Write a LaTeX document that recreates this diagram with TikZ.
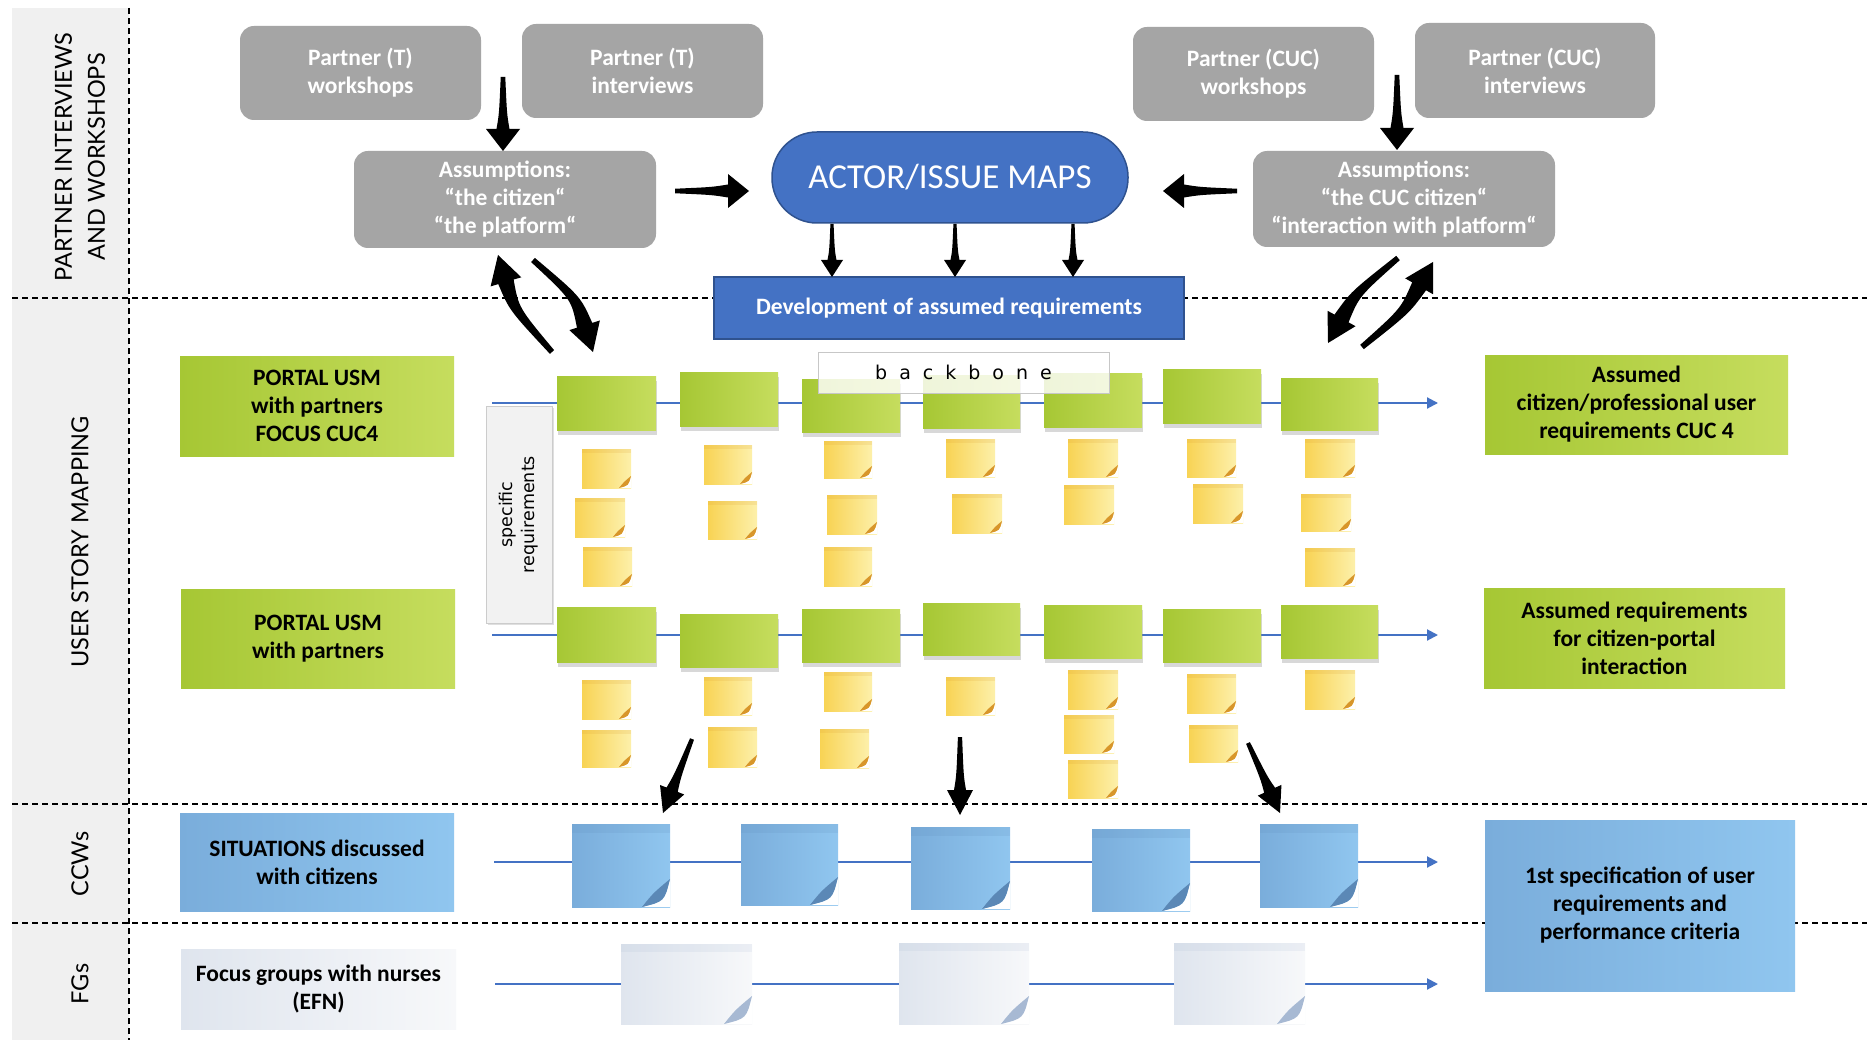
\documentclass[tikz,border=0pt]{standalone}
\usepackage{fontspec}
\setmainfont{Carlito}
\newfontfamily\secfont{Lato}
\newfontfamily\dvfont{DejaVu Sans}
\usetikzlibrary{calc,shadows,arrows.meta}

\definecolor{boxgray}{HTML}{A5A5A5}
\definecolor{mapblue}{HTML}{4472C4}
\definecolor{mapborder}{HTML}{2F528F}
\definecolor{grnL}{HTML}{A6C734}
\definecolor{grnR}{HTML}{C6DD5E}
\definecolor{bluL}{HTML}{7AADDB}
\definecolor{bluR}{HTML}{90C6EF}
\definecolor{bluCurl}{HTML}{5B88B6}
\definecolor{ylwL}{HTML}{F8D354}
\definecolor{ylwR}{HTML}{FDF0AA}
\definecolor{ylwCurl}{HTML}{D8962A}
\definecolor{litL}{HTML}{DFE5EE}
\definecolor{litR}{HTML}{F7F8FA}
\definecolor{litCurl}{HTML}{A7B9D3}
\definecolor{secgray}{HTML}{F0F0F0}
\definecolor{lineblue}{HTML}{4472C4}

\newcommand\boxat[7]{\node[#1, minimum width={(#5-#3)*1pt}, minimum height={(#6-#4)*1pt}] (#2) at ({(#3+#5)/2},{(#4+#6)/2}) {#7};}

\newcommand\taperarrow[6]{%
  \path ($(#3)!#6!(#2)$) coordinate (tH);
  \fill[black] ($(#1)!0.35*#4!90:(#2)$) .. controls ($(#2)!0.6*#4!90:(#3)$) .. ($(tH)!#4!90:(#3)$) -- ($(tH)!#5!90:(#3)$) -- (#3) -- ($(tH)!#5!-90:(#3)$) -- ($(tH)!#4!-90:(#3)$) .. controls ($(#2)!0.6*#4!-90:(#3)$) .. ($(#1)!0.35*#4!-90:(#2)$) -- cycle;
}
\newcommand\straightarrow[5]{%
  \path ($(#1)!0.5!(#2)$) coordinate (tM);
  \taperarrow{#1}{tM}{#2}{#3}{#4}{#5}
}

\tikzset{
  base/.style={inner sep=0pt, outer sep=0pt, align=center},
  boldtext/.style={font=\bfseries\fontsize{23.5}{28}\selectfont},
  graybox/.style={base, boldtext, rounded corners=14pt, fill=boxgray, text=white},
  greenbox/.style={base, boldtext, left color=grnL, right color=grnR, text=black},
  bluebox/.style={base, boldtext, left color=bluL, right color=bluR, text=black},
  litebox/.style={base, boldtext, left color=litL, right color=litR, text=black},
  devbox/.style={base, boldtext, fill=mapblue, draw=mapborder, line width=1.2pt, text=white},
  mapbox/.style={base, rounded corners=45pt, fill=mapblue, draw=mapborder, line width=1.5pt, text=white, font=\fontsize{35}{40}\selectfont},
  seclabel/.style={base, rotate=90, font=\secfont\fontsize{23.5}{33}\selectfont},
  sepline/.style={black, line width=1.3pt, dash pattern=on 6pt off 4pt},
  flowline/.style={lineblue, line width=2pt, -{Triangle[length=11pt,width=11pt]}},
  curl/.style n args={3}{path picture={
    \coordinate (cc) at (path picture bounding box.south east);
    \coordinate (nw) at (path picture bounding box.north west);
    \coordinate (ne) at (path picture bounding box.north east);
    \fill[#2, opacity=0.15] (nw) rectangle ([yshift=-#3]ne);
    \fill[white] ([xshift=-#1]cc) -- (cc) -- ([yshift=#1]cc) .. controls ([xshift=-0.2*#1,yshift=0.2*#1]cc) .. ([xshift=-#1]cc) -- cycle;
    \fill[#2] ([xshift=-#1]cc) .. controls ([xshift=-0.2*#1,yshift=0.2*#1]cc) .. ([yshift=#1]cc) .. controls ([xshift=-0.6*#1,yshift=0.5*#1]cc) .. ([xshift=-#1]cc) -- cycle;
  }},
  ynote/.style={base, left color=ylwL, right color=ylwR, curl={12pt}{ylwCurl}{4pt}},
  bnote/.style={base, left color=bluL, right color=bluR, curl={28pt}{bluCurl}{9pt}},
  wnote/.style={base, left color=litL, right color=litR, curl={28pt}{litCurl}{8pt}},
  gnote/.style={base, left color=grnL, right color=grnR, drop shadow={shadow xshift=1pt, shadow yshift=-5pt, opacity=0.3}},
}

\begin{document}
\begin{tikzpicture}[x=1pt,y=-1pt]
\useasboundingbox (0,0) rectangle (1867,1040);
\fill[white] (0,0) rectangle (1867,1040);
% section column and separators
\fill[secgray] (12,8) rectangle (129,1040);
\draw[sepline] (129,8) -- (129,1040);
\draw[sepline] (12,298) -- (1867,298);
\draw[sepline] (12,804) -- (1867,804);
\draw[sepline] (12,923) -- (1867,923);

\node[seclabel] (sec1) at (80,157) {PARTNER INTERVIEWS\\AND WORKSHOPS};
\node[seclabel] (sec2) at (80,542) {USER STORY MAPPING};
\node[seclabel] (sec3) at (80,864) {CCWs};
\node[seclabel] (sec4) at (80,984) {FGs};

% top boxes
\boxat{graybox}{pTw}{240}{26}{481}{120}{Partner (T)\\workshops}
\boxat{graybox}{pTi}{522}{24}{763}{118}{Partner (T)\\interviews}
\boxat{graybox}{aL}{354}{151}{656}{248}{Assumptions:\\“the citizen“\\“the platform“}
\boxat{graybox}{pCw}{1133}{27}{1374}{121}{Partner (CUC)\\workshops}
\boxat{graybox}{pCi}{1415}{23}{1655}{118}{Partner (CUC)\\interviews}
\boxat{graybox}{aR}{1253}{151}{1555}{247}{Assumptions:\\“the CUC citizen“\\“interaction with platform“}
\boxat{mapbox}{map}{772}{132}{1128}{223}{ACTOR/ISSUE MAPS}
\boxat{devbox}{dev}{714}{277}{1184}{339}{Development of assumed requirements}

% flow lines
\coordinate (r1s) at (492,403); \coordinate (r1e) at (1438,403);
\coordinate (r2s) at (492,635); \coordinate (r2e) at (1438,635);
\coordinate (r3s) at (494,862); \coordinate (r3e) at (1438,862);
\coordinate (r4s) at (495,984); \coordinate (r4e) at (1438,984);
\draw[flowline] (r1s) -- (r1e);
\draw[flowline] (r2s) -- (r2e);
\draw[flowline] (r3s) -- (r3e);
\draw[flowline] (r4s) -- (r4e);

% green notes row 1
\boxat{gnote}{g11}{557}{376}{656}{430}{}
\boxat{gnote}{g12}{680}{372}{778}{426}{}
\boxat{gnote}{g13}{802}{379}{900}{432}{}
\boxat{gnote}{g14}{923}{375}{1020}{428}{}
\boxat{gnote}{g15}{1044}{373}{1142}{427}{}
\boxat{gnote}{g16}{1163}{369}{1261}{423}{}
\boxat{gnote}{g17}{1281}{378}{1378}{430}{}
% green notes row 2
\boxat{gnote}{g21}{557}{607}{656}{662}{}
\boxat{gnote}{g22}{680}{614}{778}{667}{}
\boxat{gnote}{g23}{802}{609}{900}{662}{}
\boxat{gnote}{g24}{923}{603}{1020}{655}{}
\boxat{gnote}{g25}{1044}{605}{1142}{658}{}
\boxat{gnote}{g26}{1163}{609}{1261}{662}{}
\boxat{gnote}{g27}{1281}{605}{1378}{658}{}

% yellow notes row 1
\boxat{ynote}{y1a}{582}{449}{631}{488}{}
\boxat{ynote}{y1b}{575}{498}{625}{537}{}
\boxat{ynote}{y1c}{583}{547}{632}{586}{}
\boxat{ynote}{y2a}{704}{445}{752}{484}{}
\boxat{ynote}{y2b}{708}{501}{757}{539}{}
\boxat{ynote}{y3a}{824}{441}{872}{478}{}
\boxat{ynote}{y3b}{827}{495}{877}{534}{}
\boxat{ynote}{y3c}{824}{547}{872}{586}{}
\boxat{ynote}{y4a}{946}{439}{995}{477}{}
\boxat{ynote}{y4b}{952}{494}{1002}{533}{}
\boxat{ynote}{y5a}{1068}{439}{1118}{477}{}
\boxat{ynote}{y5b}{1064}{485}{1114}{524}{}
\boxat{ynote}{y6a}{1187}{439}{1236}{477}{}
\boxat{ynote}{y6b}{1193}{484}{1243}{523}{}
\boxat{ynote}{y7a}{1305}{439}{1355}{477}{}
\boxat{ynote}{y7b}{1301}{494}{1351}{531}{}
\boxat{ynote}{y7c}{1305}{548}{1355}{586}{}
% yellow notes row 2
\boxat{ynote}{z1a}{582}{680}{631}{719}{}
\boxat{ynote}{z1b}{582}{730}{631}{767}{}
\boxat{ynote}{z2a}{704}{677}{752}{715}{}
\boxat{ynote}{z2b}{708}{727}{757}{767}{}
\boxat{ynote}{z3a}{824}{672}{872}{711}{}
\boxat{ynote}{z3b}{820}{729}{869}{768}{}
\boxat{ynote}{z4a}{946}{677}{995}{715}{}
\boxat{ynote}{z5a}{1068}{670}{1118}{709}{}
\boxat{ynote}{z5b}{1064}{715}{1114}{753}{}
\boxat{ynote}{z5c}{1068}{760}{1118}{798}{}
\boxat{ynote}{z6a}{1187}{674}{1236}{713}{}
\boxat{ynote}{z6b}{1189}{725}{1238}{762}{}
\boxat{ynote}{z7a}{1305}{670}{1355}{709}{}

% blue notes
\boxat{bnote}{b1}{572}{824}{670}{907}{}
\boxat{bnote}{b2}{741}{824}{838}{905}{}
\boxat{bnote}{b3}{911}{827}{1010}{909}{}
\boxat{bnote}{b4}{1092}{829}{1190}{911}{}
\boxat{bnote}{b5}{1260}{824}{1358}{907}{}
% white notes
\boxat{wnote}{w1}{621}{944}{752}{1024}{}
\boxat{wnote}{w2}{899}{943}{1029}{1024}{}
\boxat{wnote}{w3}{1174}{943}{1305}{1024}{}

% backbone and specific requirements
\boxat{base, fill=white, fill opacity=0.82, text opacity=1, draw=black!22, line width=1pt, font=\dvfont\fontsize{19}{22}\selectfont}{bb}{818}{352}{1109}{393}{\spaceskip=12pt b a c k b o n e}
\boxat{base, fill=black!5, draw=black!20, line width=1pt, drop shadow={shadow xshift=2pt, shadow yshift=-2pt, opacity=0.25}}{spec}{486}{406}{552}{623}{}
\node[base, rotate=90, font=\dvfont\fontsize{17.5}{22}\selectfont] (spect) at (spec.center) {specific\\requirements};

% left labels
\boxat{greenbox}{L1}{180}{356}{454}{456}{PORTAL USM\\with partners\\FOCUS CUC4}
\boxat{greenbox}{L2}{181}{589}{455}{688}{PORTAL USM\\with partners}
\boxat{bluebox}{L3}{180}{813}{454}{911}{SITUATIONS discussed\\with citizens}
\boxat{litebox}{L4}{181}{949}{456}{1029}{Focus groups with nurses\\(EFN)}
% right labels
\boxat{greenbox}{R1}{1485}{355}{1788}{454}{Assumed\\citizen/professional user\\requirements CUC 4}
\boxat{greenbox}{R2}{1484}{588}{1785}{688}{Assumed requirements\\for citizen-portal\\interaction}
\boxat{bluebox}{R3}{1485}{820}{1795}{991}{1st specification of user\\requirements and\\performance criteria}

% block arrows
\coordinate (tLt) at (503,77); \coordinate (tLh) at (503,151);
\coordinate (tRt) at (1397,75); \coordinate (tRh) at (1397,150);
\straightarrow{tLt}{tLh}{6.5pt}{17pt}{22pt}
\straightarrow{tRt}{tRh}{6.5pt}{17pt}{22pt}
\coordinate (hLt) at (675,191); \coordinate (hLh) at (749,191);
\coordinate (hRt) at (1237,191); \coordinate (hRh) at (1163,191);
\straightarrow{hLt}{hLh}{6.5pt}{17pt}{21pt}
\straightarrow{hRt}{hRh}{6.5pt}{17pt}{21pt}
\coordinate (d1t) at (832,224); \coordinate (d1h) at (832,277);
\coordinate (d2t) at (955,224); \coordinate (d2h) at (955,277);
\coordinate (d3t) at (1073,224); \coordinate (d3h) at (1073,277);
\straightarrow{d1t}{d1h}{4.5pt}{11pt}{17pt}
\straightarrow{d2t}{d2h}{4.5pt}{11pt}{17pt}
\straightarrow{d3t}{d3h}{4.5pt}{11pt}{17pt}
\coordinate (c1t) at (692,739); \coordinate (c1h) at (663,813);
\coordinate (c2t) at (960,737); \coordinate (c2h) at (960,815);
\coordinate (c3t) at (1248,743); \coordinate (c3h) at (1280,813);
\straightarrow{c1t}{c1h}{6pt}{13pt}{25pt}
\straightarrow{c2t}{c2h}{6pt}{13pt}{25pt}
\straightarrow{c3t}{c3h}{6pt}{13pt}{25pt}
% curved arrows
\coordinate (k1t) at (552,352); \coordinate (k1c) at (514,309); \coordinate (k1h) at (498,255);
\coordinate (k2t) at (533,260); \coordinate (k2c) at (576,298); \coordinate (k2h) at (593,352);
\coordinate (k3t) at (1398,258); \coordinate (k3c) at (1355,294); \coordinate (k3h) at (1328,343);
\coordinate (k4t) at (1362,347); \coordinate (k4c) at (1405,311); \coordinate (k4h) at (1433,262);
\taperarrow{k1t}{k1c}{k1h}{8pt}{16pt}{28pt}
\taperarrow{k2t}{k2c}{k2h}{8pt}{16pt}{28pt}
\taperarrow{k3t}{k3c}{k3h}{8pt}{16pt}{28pt}
\taperarrow{k4t}{k4c}{k4h}{8pt}{16pt}{28pt}
\end{tikzpicture}
\end{document}
